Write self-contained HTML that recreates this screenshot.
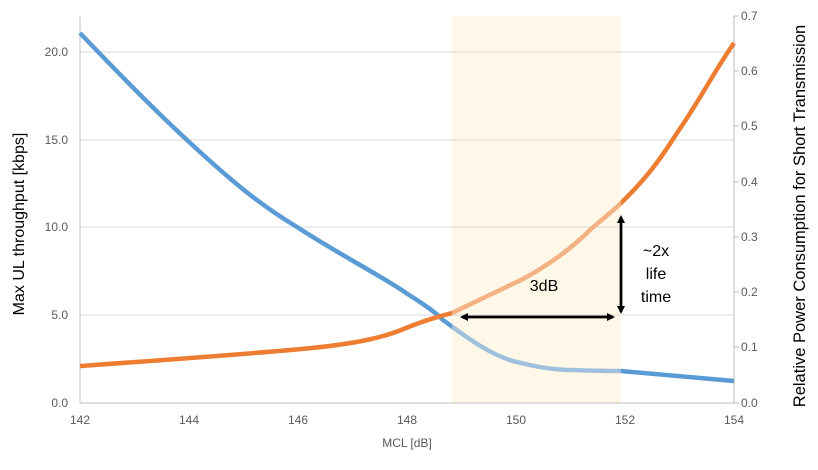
<!DOCTYPE html>
<html><head><meta charset="utf-8"><style>
body{margin:0;background:#fff}
text{font-family:"Liberation Sans Narrow","Liberation Sans",sans-serif}
</style></head><body>
<svg width="818" height="465" viewBox="0 0 818 465" xmlns="http://www.w3.org/2000/svg">
<defs>
<clipPath id="inS"><rect x="452" y="0" width="169" height="465"/></clipPath>
<clipPath id="outS"><path d="M0 0H452V465H0Z M621 0H818V465H621Z"/></clipPath>
<marker id="ah" markerWidth="8" markerHeight="8" refX="6" refY="4" orient="auto" markerUnits="userSpaceOnUse"><path d="M0 0L8 4L0 8Z" fill="#000"/></marker>
</defs>
<rect x="452" y="16" width="169" height="387" fill="#fff8e8"/>
<g stroke="#d9d9d9" stroke-width="1">
<line x1="80" y1="52" x2="734" y2="52"/><line x1="80" y1="140" x2="734" y2="140"/>
<line x1="80" y1="227" x2="734" y2="227"/><line x1="80" y1="315" x2="734" y2="315"/>
</g>
<g stroke="#bfbfbf" stroke-width="1" fill="none">
<line x1="80" y1="16" x2="80" y2="403"/><line x1="80" y1="403" x2="734" y2="403"/>
<line x1="734" y1="16" x2="734" y2="403"/>
<line x1="734" y1="16" x2="739" y2="16"/><line x1="734" y1="71" x2="739" y2="71"/><line x1="734" y1="126" x2="739" y2="126"/><line x1="734" y1="182" x2="739" y2="182"/><line x1="734" y1="237" x2="739" y2="237"/><line x1="734" y1="292" x2="739" y2="292"/><line x1="734" y1="347" x2="739" y2="347"/><line x1="734" y1="403" x2="739" y2="403"/>
</g>
<g id="curves">
<path id="b" d="M80 33 C120 75 160 115 187 140 C230 180 260 205 297 227 C340 255 380 275 406 293 C425 305 435 312 443 320 C470 340 495 358 521 363 C545 369 560 370 573 370 C600 371 610 371 621 371 L734 381" fill="none" stroke-width="4.5"/>
<path id="o" d="M80 366 C150 361 250 354 312 348 C360 343 385 337 406 328 C425 320 440 316 452 313 C475 302 500 290 521 280 C550 265 575 245 590 230 C600 221 612 212 621 203 C645 180 660 160 677 133 C700 100 715 70 734 43" fill="none" stroke-width="4.5"/>
</g>
<g clip-path="url(#outS)">
<use href="#b" stroke="#5b9bd5"/><use href="#o" stroke="#ed7d31"/>
</g>
<g clip-path="url(#inS)">
<use href="#b" stroke="#9fc0dc"/><use href="#o" stroke="#f4b183"/>
</g>
<g stroke="#000" stroke-width="2.5">
<line x1="462" y1="317" x2="613" y2="317" marker-end="url(#ah)"/>
<line x1="613" y1="317" x2="462" y2="317" marker-end="url(#ah)"/>
<line x1="621" y1="312" x2="621" y2="217" marker-end="url(#ah)"/>
<line x1="621" y1="217" x2="621" y2="312" marker-end="url(#ah)"/>
</g>
<g font-size="16" fill="#000" text-anchor="middle">
<text x="544" y="291">3dB</text>
<text x="656" y="256">~2x</text><text x="656" y="279">life</text><text x="656" y="302">time</text>
</g>
<g font-size="12" fill="#595959" text-anchor="end">
<text x="68" y="56">20.0</text><text x="68" y="144">15.0</text><text x="68" y="231">10.0</text><text x="68" y="319">5.0</text><text x="68" y="407">0.0</text>
</g>
<g font-size="12" fill="#595959" text-anchor="start">
<text x="741" y="20">0.7</text><text x="741" y="75">0.6</text><text x="741" y="130">0.5</text><text x="741" y="186">0.4</text><text x="741" y="241">0.3</text><text x="741" y="296">0.2</text><text x="741" y="351">0.1</text><text x="741" y="407">0.0</text>
</g>
<g font-size="12" fill="#595959" text-anchor="middle">
<text x="80" y="424">142</text><text x="189" y="424">144</text><text x="298" y="424">146</text><text x="407" y="424">148</text><text x="516" y="424">150</text><text x="625" y="424">152</text><text x="734" y="424">154</text>
<text x="407" y="447">MCL [dB]</text>
</g>
<text font-size="16" fill="#000" text-anchor="middle" transform="translate(24,224) rotate(-90)" style="font-family:'Liberation Sans',sans-serif">Max UL throughput [kbps]</text>
<text font-size="16.5" fill="#000" text-anchor="middle" transform="translate(805,216) rotate(-90)" style="font-family:'Liberation Sans',sans-serif">Relative Power Consumption for Short Transmission</text>
</svg>
</body></html>
